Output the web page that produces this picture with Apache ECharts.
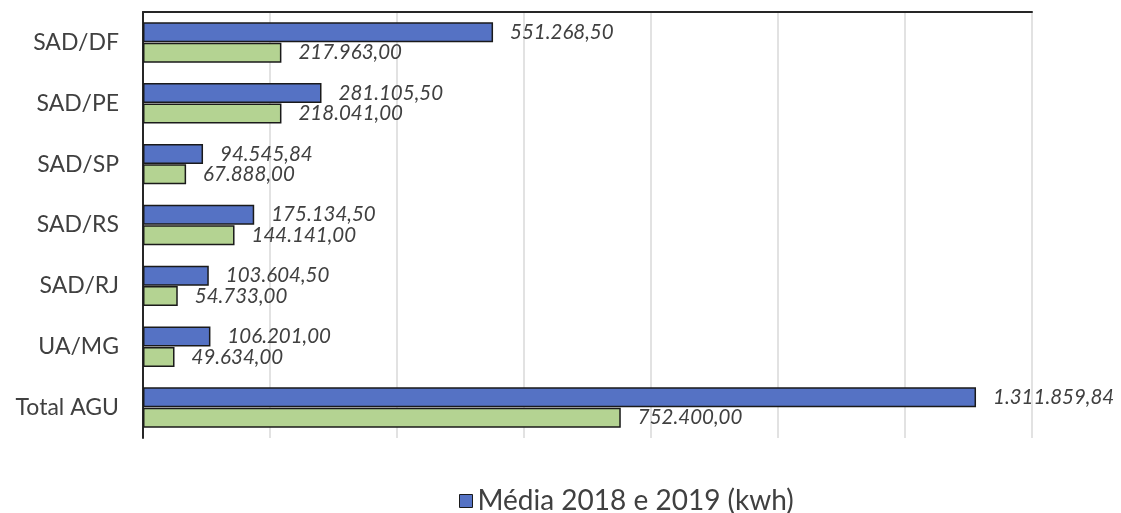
<!DOCTYPE html>
<html>
<head>
<meta charset="utf-8">
<script src="https://cdn.jsdelivr.net/npm/echarts@6/dist/echarts.min.js"></script>
<style>
  html, body { margin: 0; padding: 0; background: #fff; }
  #chart { width: 1121px; height: 513px; }
</style>
</head>
<body>
<div id="chart"></div>
<script>
// unidades, de cima para baixo
var categorias = ['SAD/DF', 'SAD/PE', 'SAD/SP', 'SAD/RS', 'SAD/RJ', 'UA/MG', 'Total AGU'];
var media20182019 = [551268.50, 281105.50, 94545.84, 175134.50, 103604.50, 106201.00, 1311859.84];
var segundaSerie = [217963.00, 218041.00, 67888.00, 144141.00, 54733.00, 49634.00, 752400.00];
var nomeMedia = 'Média 2018 e 2019 (kwh)';
var nomeSegunda = 'Consumo (kwh)';

// formato brasileiro: 1.234.567,89
function fmtBR(v) {
    var partes = v.toFixed(2).split('.');
    partes[0] = partes[0].replace(/\B(?=(\d{3})+(?!\d))/g, '.');
    return partes[0] + ',' + partes[1];
}

var labelStyle = {
    show: true,
    position: 'right',
    distance: 17,
    fontFamily: 'Lato',
    fontStyle: 'italic',
    fontSize: 20.5,
    color: '#404040',
    formatter: function (p) { return fmtBR(p.value); }
};

var chart = echarts.init(document.getElementById('chart'));
chart.setOption({
    animation: false,
    textStyle: { fontFamily: 'Lato' },
    legend: {
        data: [nomeMedia],
        top: 482,
        left: 454,
        itemWidth: 13,
        itemHeight: 13,
        itemGap: 8,
        icon: 'rect',
        itemStyle: { borderColor: '#1a1a1a', borderWidth: 1 },
        textStyle: { fontSize: 28, color: '#404040' }
    },
    grid: { left: 143, right: 89, top: 12, bottom: 75 },
    xAxis: {
        type: 'value',
        position: 'top',
        min: 0,
        max: 1400000,
        interval: 200000,
        axisLine: { show: true, lineStyle: { color: '#262626', width: 2 } },
        axisTick: { show: false },
        axisLabel: { show: false },
        splitLine: { show: true, lineStyle: { color: '#d9d9d9', width: 1.5 } }
    },
    yAxis: {
        type: 'category',
        data: categorias,
        inverse: true,
        axisLine: { show: true, lineStyle: { color: '#262626', width: 2 } },
        axisTick: { show: false },
        axisLabel: { fontSize: 23, color: '#404040', margin: 24 }
    },
    series: [
        {
            name: nomeMedia,
            type: 'bar',
            data: media20182019,
            barWidth: 20,
            barGap: '2%',
            itemStyle: { color: '#5572c4', borderColor: '#1a1a1a', borderWidth: 1.5 },
            label: labelStyle
        },
        {
            name: nomeSegunda,
            type: 'bar',
            data: segundaSerie,
            barWidth: 20,
            itemStyle: { color: '#b4d392', borderColor: '#1a1a1a', borderWidth: 1.5 },
            label: labelStyle
        }
    ]
});
</script>
</body>
</html>
